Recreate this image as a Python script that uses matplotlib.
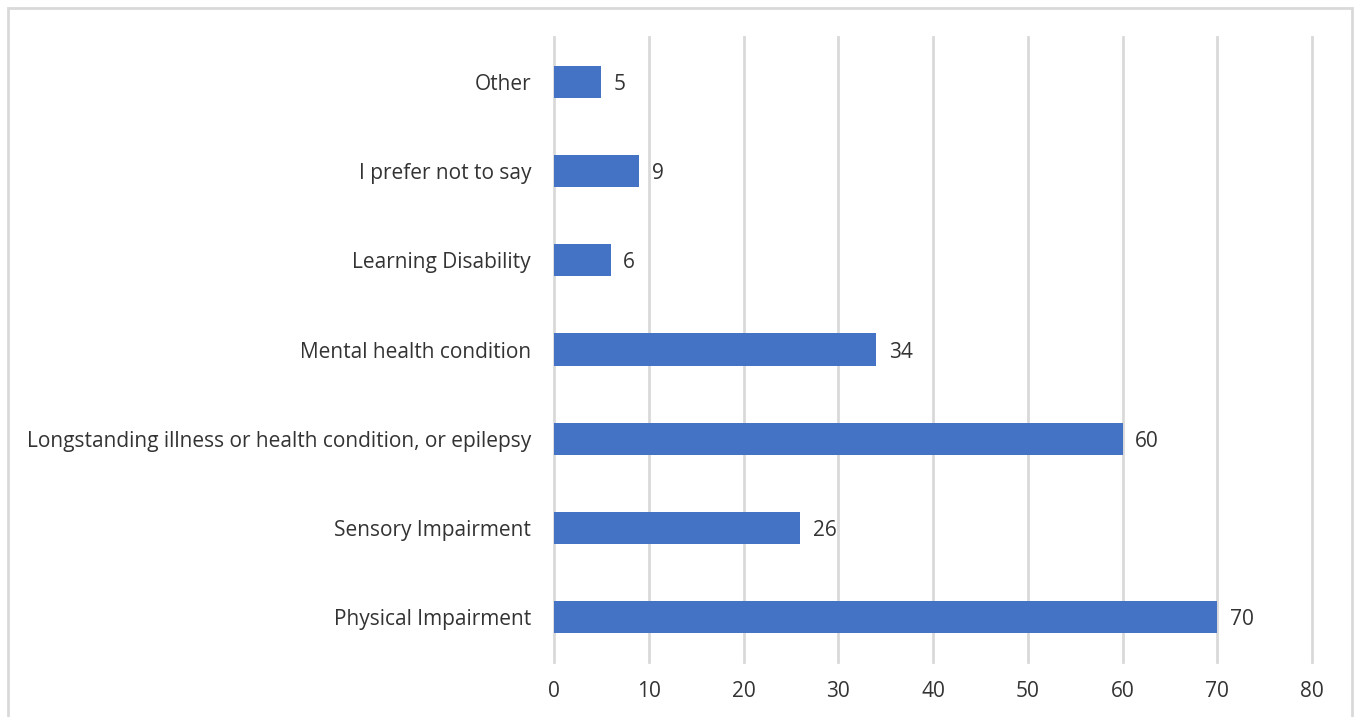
import matplotlib.pyplot as plt
from matplotlib.patches import Rectangle

# categories bottom -> top
categories = [
    "Physical Impairment",
    "Sensory Impairment",
    "Longstanding illness or health condition, or epilepsy",
    "Mental health condition",
    "Learning Disability",
    "I prefer not to say",
    "Other",
]
counts = [70, 26, 60, 34, 6, 9, 5]
x_ticks = [0, 10, 20, 30, 40, 50, 60, 70, 80]

plt.rcParams['font.family'] = ['Open Sans', 'DejaVu Sans']
text_col = '#333333'
grid_col = '#D9D9D9'
bar_col = '#4472C4'
fs = 15

fig = plt.figure(figsize=(13.55, 7.17), dpi=100)
ax = fig.add_axes([554 / 1355, 1 - 662 / 717, (1312 - 554) / 1355, (662 - 37) / 717])

ypos = list(range(len(categories)))
bars = ax.barh(ypos, counts, height=0.36, color=bar_col, zorder=3)

for y, v in zip(ypos, counts):
    ax.annotate(str(v), (v, y), xytext=(9, 0), textcoords='offset points',
                va='center_baseline', ha='left', fontsize=fs, color=text_col)

ax.set_xlim(0, 80)
ax.set_ylim(-0.5, len(categories) - 0.5)
ax.set_xticks(x_ticks)
ax.set_yticks(ypos)
ax.set_yticklabels(categories, va='center_baseline')
ax.tick_params(axis='both', length=0, labelsize=fs, labelcolor=text_col)
ax.tick_params(axis='x', pad=14)
ax.tick_params(axis='y', pad=16.5)
ax.grid(axis='x', color=grid_col, linewidth=2, zorder=0)
for ln in ax.get_xgridlines():
    ln.set_clip_on(False)
for s in ax.spines.values():
    s.set_visible(False)

# outer chart border
fig.patches.append(Rectangle((8 / 1355, -0.05), (1352 - 8) / 1355, 1.05 - 8 / 717,
                             transform=fig.transFigure, fill=False,
                             edgecolor=grid_col, linewidth=2))

fig.savefig('out.png', dpi=100)
